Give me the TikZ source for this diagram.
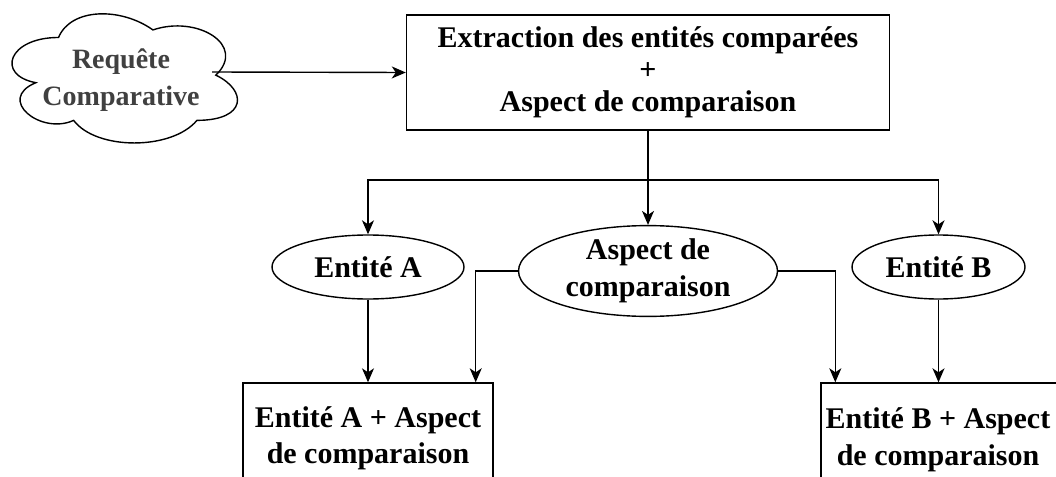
\documentclass[tikz,border=0pt]{standalone}
\usepackage{fontspec}
\setmainfont{Liberation Serif}
\usetikzlibrary{arrows.meta,shapes.geometric}
\definecolor{cloudtext}{HTML}{404040}
\tikzset{
  x=1pt, y=-1pt,
  line/.style={line width=1.4pt, draw=black},
  arr/.style={line, -{Stealth[length=14pt, width=12pt, inset=4pt]}},
  boxnode/.style={line, rectangle, inner sep=0pt, align=center,
    font=\fontsize{30}{36}\selectfont\bfseries},
  ellnode/.style={line, ellipse, inner sep=0pt, align=center,
    font=\fontsize{30}{37}\selectfont\bfseries},
  label/.style={align=center, inner sep=0pt, font=\fontsize{30}{37}\selectfont\bfseries},
}
\begin{document}
\begin{tikzpicture}
\useasboundingbox (0,0) rectangle (1056,476);
\clip (0,0) rectangle (1056,476);

% cloud outline
\begin{scope}[shift={(-4.4,-0.2)}, x=251.7pt, y=-150.7pt]
  \draw[line, fill=white] (0.25,0.25)
    .. controls (0.05,0.25) and (0,0.5) .. (0.16,0.55)
    .. controls (0,0.66) and (0.18,0.9) .. (0.31,0.8)
    .. controls (0.4,1) and (0.7,1) .. (0.8,0.8)
    .. controls (1,0.8) and (1,0.6) .. (0.875,0.5)
    .. controls (1,0.3) and (0.8,0.1) .. (0.625,0.2)
    .. controls (0.5,0.05) and (0.3,0.05) .. (0.25,0.25) -- cycle;
\end{scope}
\node[align=center, text=cloudtext, font=\fontsize{28}{37}\selectfont\bfseries]
  (req) at (121,80) {Requête\\Comparative};
\coordinate (reqout) at (212,72);

% extraction step
\node[boxnode, minimum width=483pt, minimum height=115pt,
  font=\fontsize{30}{32}\selectfont\bfseries]
  (ext) at (648,72.5) {Extraction des entités comparées\\+\\Aspect de comparaison};

% entities and aspect
\node[ellnode, minimum width=192pt, minimum height=64pt] (ea) at (368,267) {Entité A};
\node[ellnode, minimum width=259pt, minimum height=70pt] (asp) at (648,271) {Aspect de\\comparaison};
\node[ellnode, minimum width=173pt, minimum height=64pt] (eb) at (938.5,267) {Entité B};

% combined outputs
\node[boxnode, minimum width=250pt, minimum height=110pt] (ba) at (368,438)
  {Entité A + Aspect\\de comparaison};
\node[boxnode, minimum width=250pt, minimum height=110pt] (bb) at (946,438) {};
\node[label] (bbt) at (938,440) {Entité B + Aspect\\de comparaison};

% connectors
\coordinate (split) at (648,180);
\draw[arr] (reqout) -- (ext.west);
\draw[arr] (ext.south) -- (asp.north);
\draw[arr] (split) -| (ea.north);
\draw[arr] (split) -| (eb.north);
\draw[arr] (ea.south) -- (ba.north);
\draw[arr] (asp.west) -| ([xshift=-18pt]ba.north east);
\draw[arr] (asp.east) -| ([xshift=15pt]bb.north west);
\draw[arr] (eb.south) -- (eb.south |- bb.north);
\end{tikzpicture}
\end{document}
